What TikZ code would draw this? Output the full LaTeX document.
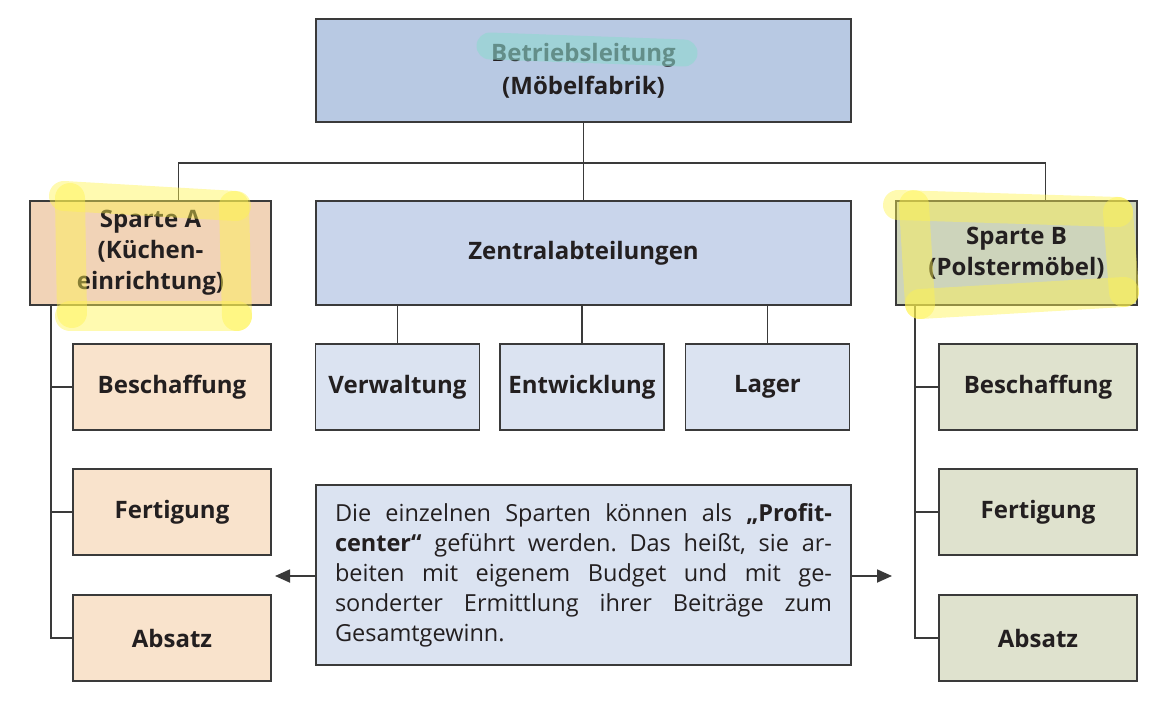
\documentclass[tikz,border=0pt]{standalone}
\usepackage{fontspec}
\setmainfont{Open Sans}
\usetikzlibrary{arrows,arrows.meta,shapes,positioning}
\frenchspacing
\definecolor{linegray}{HTML}{3A3A3A}
\definecolor{textdark}{HTML}{231F20}
\definecolor{leitungblue}{HTML}{B8C9E3}
\definecolor{zentralblue}{HTML}{C9D5EB}
\definecolor{paleblue}{HTML}{DBE3F1}
\definecolor{sparteapeach}{HTML}{F1D3B7}
\definecolor{palepeach}{HTML}{F9E3CC}
\definecolor{spartebgreen}{HTML}{CDD4BB}
\definecolor{palegreen}{HTML}{DFE2CE}
\definecolor{marker}{HTML}{FFF34F}
\definecolor{tealmarker}{HTML}{8FD8D0}
\tikzstyle{unit}=[draw=linegray, line width=1.8pt, inner sep=0pt, align=center
,text=textdark
,font=\fontsize{24}{31}\selectfont\bfseries
]
\tikzstyle{bigunit}=[unit, minimum width=535pt, minimum height=103pt]
\tikzstyle{sparte}=[unit, minimum width=241pt, minimum height=104pt]
\tikzstyle{subunit}=[unit, minimum width=198pt, minimum height=86pt]
\tikzstyle{zentralunit}=[unit, minimum width=164pt, minimum height=86pt]
\tikzstyle{edge}=[draw=linegray, line width=1.8pt, -]
\tikzstyle{highlight}=[line width=30pt, line cap=round, color=marker, opacity=0.45]
\newcommand{\infoline}[1]{\makebox[497pt][s]{#1}\\}
\begin{document}
\begin{tikzpicture}[x=1pt, y=-1pt]
    \useasboundingbox (0,0) rectangle (1172,708);
    % Top of the organisation
    \node[bigunit, fill=leitungblue, font=\fontsize{24}{33}\selectfont\bfseries] (Leitung) at (583.5,70.5) {Betriebsleitung\\(Möbelfabrik)};
    \node[sparte, fill=sparteapeach] (SparteA) at (150.5,253) {Sparte A\\(Küchen-\\einrichtung)};
    \node[bigunit, fill=zentralblue, minimum height=104pt] (Zentral) at (583.5,253) {Zentralabteilungen};
    \node[sparte, fill=spartebgreen] (SparteB) at (1016.5,253) {Sparte B\\(Polstermöbel)};

    % Central departments
    \foreach \pos/\name/\label in {{(397.5,387)/Verw/Verwaltung}, {(582,387)/Entw/Entwicklung}, {(767.5,387)/Lager/Lager}}
        \node[zentralunit, fill=paleblue] (\name) at \pos {\label};

    % Functions of both divisions
    \foreach \y/\name/\label in {387/B/Beschaffung, 512/F/Fertigung, 638/A/Absatz} {
        \node[subunit, fill=palepeach] (A\name) at (172,\y) {\label};
        \node[subunit, fill=palegreen] (B\name) at (1038,\y) {\label};
    }

    % Note between the divisions
    \node[draw=linegray, line width=1.8pt, fill=paleblue, minimum width=535pt, minimum height=180pt,
          inner sep=0pt, text=textdark, align=left, font=\fontsize{23.5}{30}\selectfont] (Info) at (583.5,575) {%
        \infoline{Die einzelnen Sparten können als \textbf{„Profit-}}
        \infoline{\textbf{center“} geführt werden. Das heißt, sie ar-}
        \infoline{beiten mit eigenem Budget und mit ge-}
        \infoline{sonderter Ermittlung ihrer Beiträge zum}
        \makebox[497pt][l]{Gesamtgewinn.}};

    % Connect the units with edges
    \path[edge] (Leitung.south) -- ++(0,40) coordinate (bus);
    \path[edge] ([xshift=28pt]SparteA.north) |- (bus) -| ([xshift=29pt]SparteB.north);
    \path[edge] (bus) -- (Zentral.north);
    \foreach \dest in {Verw, Entw, Lager}
        \path[edge] (Zentral.south -| \dest.north) -- (\dest.north);
    \foreach \n in {B, F, A} {
        \path[edge] ([xshift=22pt]SparteA.south west) |- (A\n.west);
        \path[edge] ([xshift=20pt]SparteB.south west) |- (B\n.west);
    }

    % Arrows to the divisions
    \coordinate (pfeilA) at (275,576);
    \coordinate (pfeilB) at (892,576);
    \path[edge, -{Triangle[length=15pt,width=13pt]}] (Info.west |- pfeilA) -- (pfeilA);
    \path[edge, -{Triangle[length=15pt,width=13pt]}] (Info.east |- pfeilB) -- (pfeilB);

    % Marker strokes
    \draw[line width=27pt, line cap=round, color=tealmarker, opacity=0.6] (490,46) -- (684,53);
    \draw[highlight] (64,196) -- (236,206);
    \draw[highlight] (70,198) -- (72,313);
    \draw[highlight] (234,206) -- (237,316);
    \draw[highlight] (70,316) -- (237,316);
    \draw[highlight] (898,205) -- (1118,212);
    \draw[highlight] (914,205) -- (920,304);
    \draw[highlight] (1118,212) -- (1124,292);
    \draw[highlight] (920,304) -- (1124,292);
\end{tikzpicture}
\end{document}
